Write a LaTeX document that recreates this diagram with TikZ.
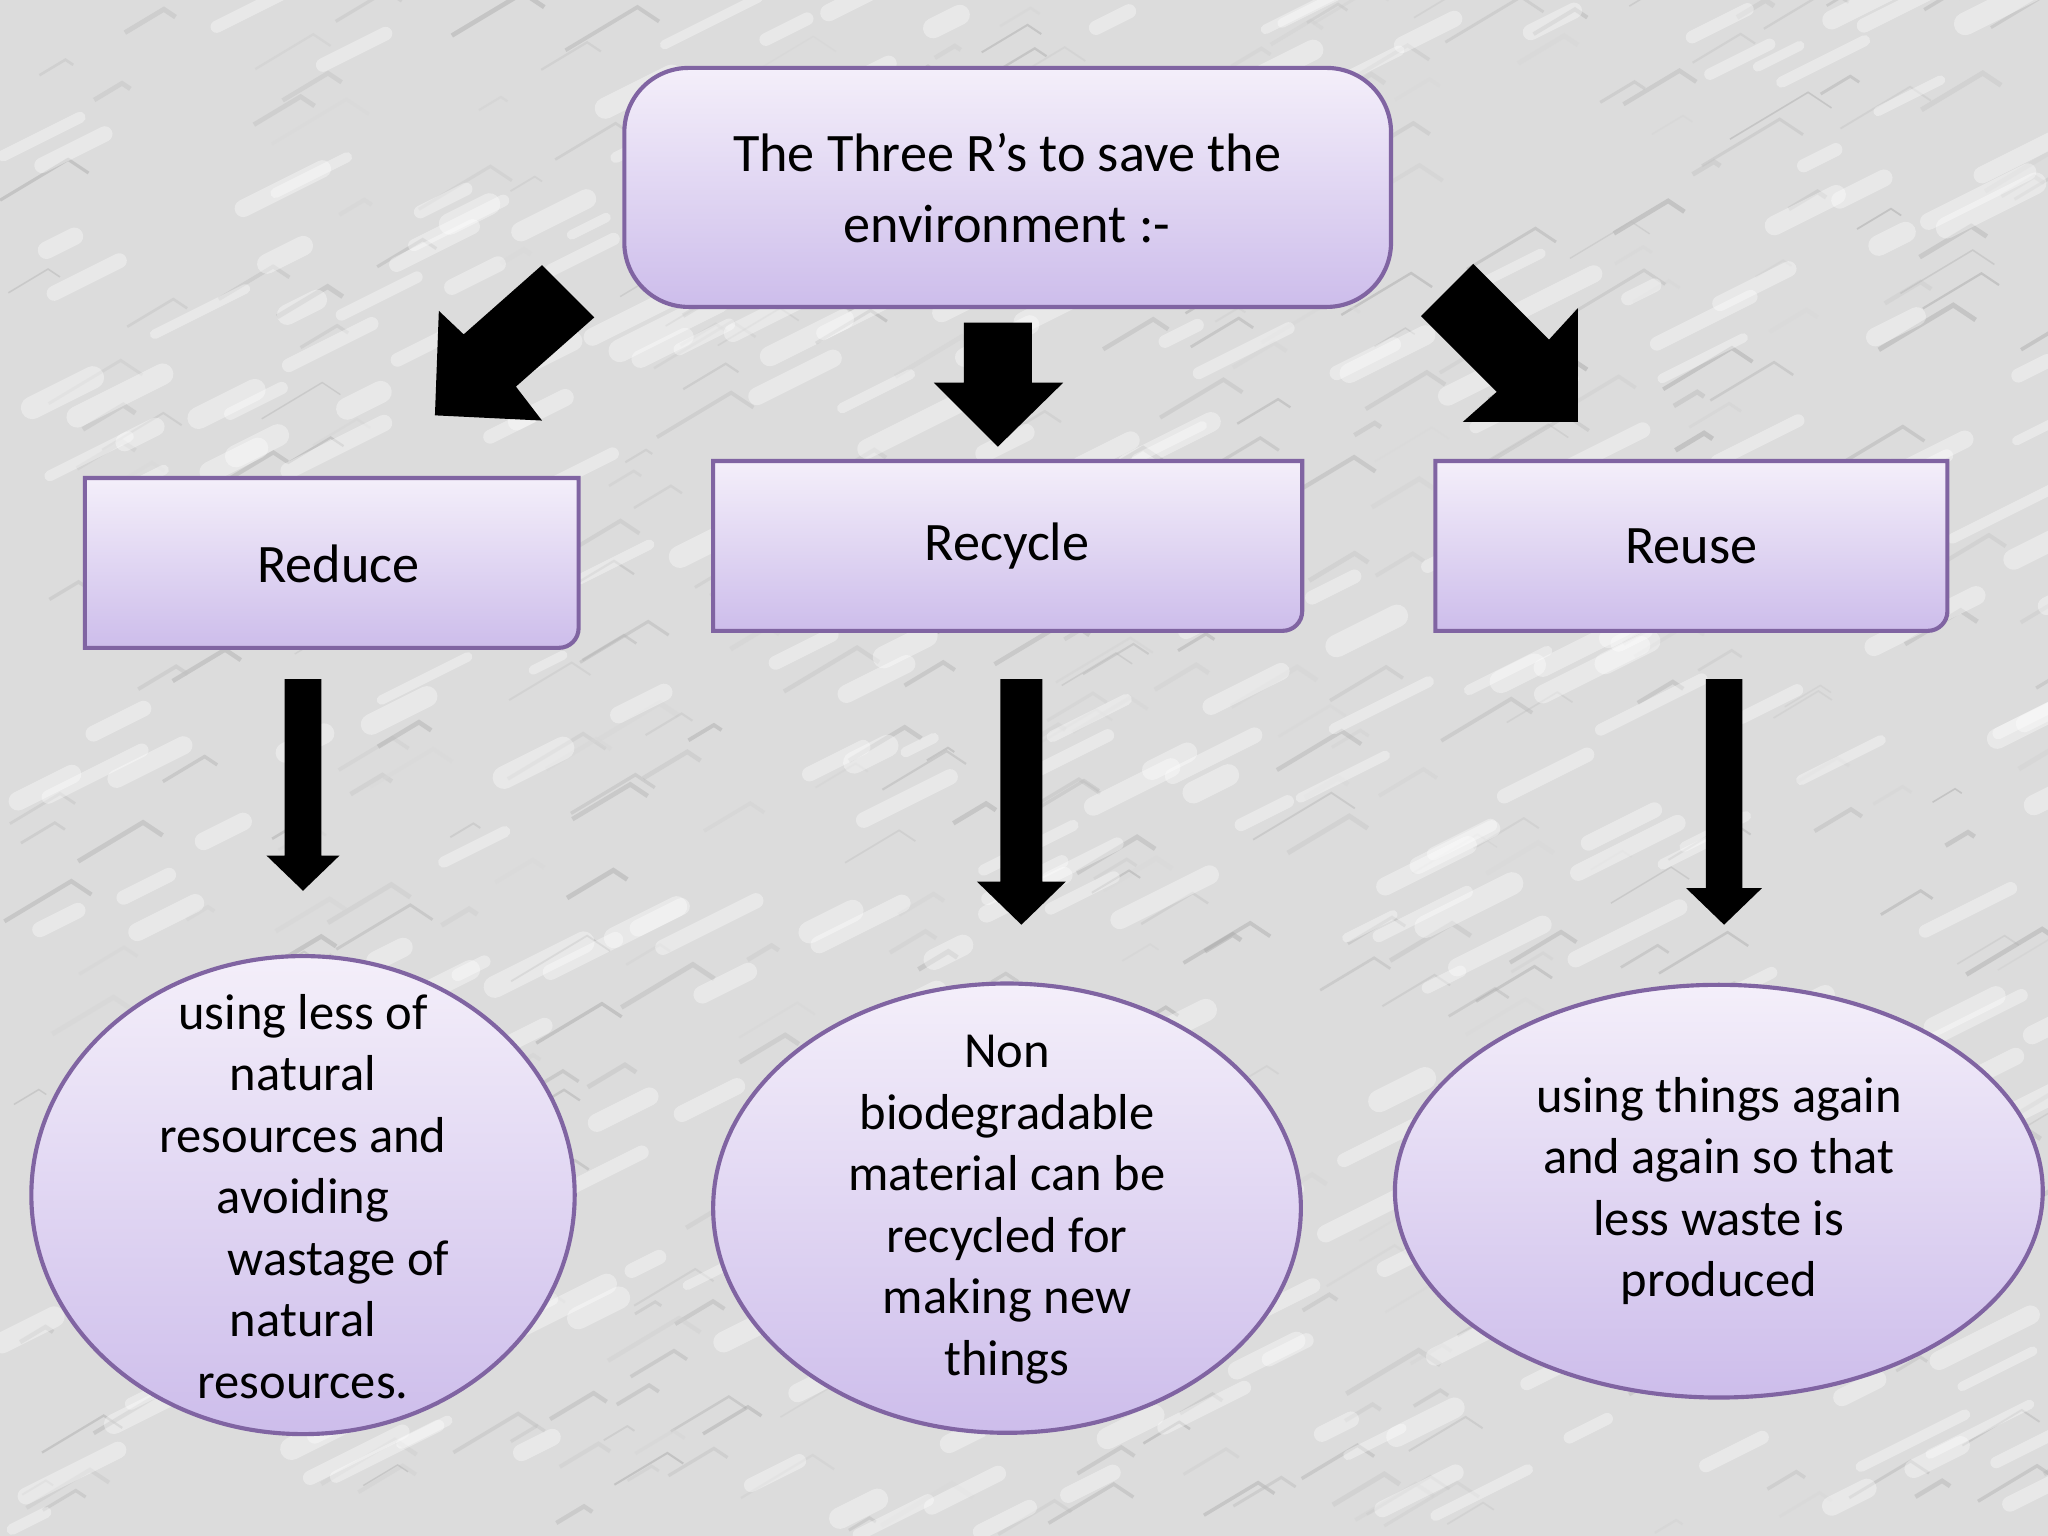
\documentclass[tikz,border=0pt]{standalone}
\usepackage{fontspec}
\setmainfont{Carlito}
\begin{document}
\begin{tikzpicture}[x=0.01cm,y=-0.01cm,
  box/.style={draw=boxline,line width=0.9pt,top color=boxtop,bottom color=boxbot},
  lbl/.style={align=center,font=\fontsize{11}{13.4}\selectfont,text=black},
  blk/.style={fill=black,draw=none}]
\definecolor{boxline}{HTML}{8064A2}
\definecolor{boxtop}{HTML}{F4EFFA}
\definecolor{boxbot}{HTML}{CDBDEB}
\definecolor{bg}{HTML}{DCDCDC}
\useasboundingbox (0,0) rectangle (1568,1176);
\fill[bg] (0,0) rectangle (1568,1176);
\pgfmathsetseed{7}
\foreach \i in {1,...,500}{
  \pgfmathsetmacro\xa{rnd*1568}\pgfmathsetmacro\ya{rnd*1176}
  \pgfmathsetmacro\len{15+rnd*45}\pgfmathsetmacro\c{rnd}
  \draw[line width=0.3pt+rnd*0.8pt, draw=gray!\fpeval{30+40*\c}, opacity=0.45]
    (\xa,\ya) -- ++(\len,-0.6*\len) -- ++(0.3*\len,0.2*\len);
}
\pgfmathsetseed{11}
\foreach \i in {1,...,350}{
  \pgfmathsetmacro\xa{rnd*1568}\pgfmathsetmacro\ya{rnd*1176}
  \pgfmathsetmacro\len{20+rnd*60}
  \draw[line width=2pt+rnd*3pt, white, opacity=0.35, line cap=round] (\xa,\ya) -- ++(\len,-0.5*\len);
}
% top box
\draw[box,rounded corners=14] (478,52) rectangle (1065,235);
\node[lbl,font=\fontsize{11.8}{15.5}\selectfont] (top) at (771,144) {The Three R’s to save the\\environment :-};
% middle boxes
\draw[box] (65,366) -- (443,366) -- (443,481) arc[start angle=0,end angle=90,radius=15] -- (65,496) -- cycle;
\node[lbl,font=\fontsize{11.8}{15}\selectfont] (reduce) at (259,432) {Reduce};
\draw[box] (546,353) -- (997,353) -- (997,468) arc[start angle=0,end angle=90,radius=15] -- (546,483) -- cycle;
\node[lbl,font=\fontsize{11.8}{15}\selectfont] (recycle) at (771,418) {Recycle};
\draw[box] (1099,353) -- (1491,353) -- (1491,468) arc[start angle=0,end angle=90,radius=15] -- (1099,483) -- cycle;
\node[lbl,font=\fontsize{11.8}{15}\selectfont] (reuse) at (1295,418) {Reuse};
% ellipses
\draw[box] (232,915) ellipse [x radius=208, y radius=183];
\node[lbl] (e1) at (232,916) {using less of\\natural\\resources and\\avoiding\\\hspace*{1.4em}wastage of\\natural\\resources.};
\draw[box] (771,925) ellipse [x radius=225, y radius=172];
\node[lbl] (e2) at (771,926) {Non\\biodegradable\\material can be\\recycled for\\making new\\things};
\draw[box] (1316,912) ellipse [x radius=248, y radius=158];
\node[lbl] (e3) at (1316,912) {using things again\\and again so that\\less waste is\\produced};
% block arrows
\fill[blk] (738,247) -- (790,247) -- (790,293) -- (814,293) -- (764,342) -- (715,293) -- (738,293) -- cycle;
\fill[blk] (415,203) -- (455,243) -- (395,296) -- (415,322) -- (333,318) -- (336,238) -- (355,256) -- cycle;
\fill[blk] (1088,242) -- (1128,202) -- (1186,260) -- (1208,236) -- (1208,323) -- (1120,323) -- (1146,300) -- cycle;
\fill[blk] (218,520) -- (246,520) -- (246,655) -- (260,655) -- (232,682) -- (204,655) -- (218,655) -- cycle;
\fill[blk] (766,520) -- (798,520) -- (798,675) -- (816,675) -- (782,708) -- (748,675) -- (766,675) -- cycle;
\fill[blk] (1306,520) -- (1334,520) -- (1334,680) -- (1349,680) -- (1320,708) -- (1291,680) -- (1306,680) -- cycle;
\end{tikzpicture}
\end{document}
